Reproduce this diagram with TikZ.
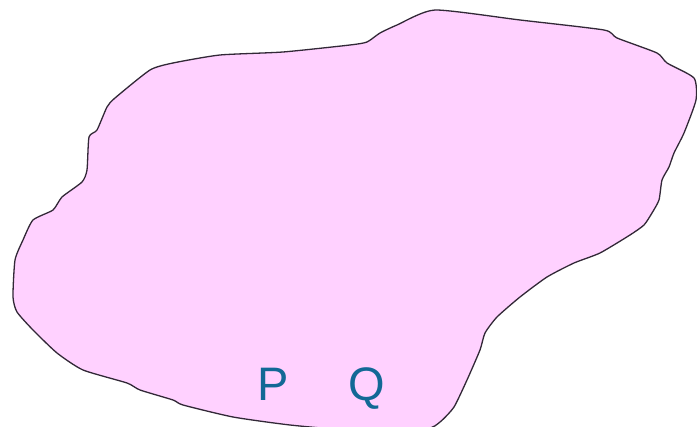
\documentclass[tikz,border=0pt]{standalone}
\usepackage{fontspec}
\setmainfont{Liberation Sans}
\definecolor{blobfill}{RGB}{255,209,255}
\definecolor{blobline}{RGB}{50,40,55}
\definecolor{lettercol}{RGB}{18,104,150}
\tikzset{
  blob/.style={fill=blobfill, draw=blobline, line width=1.3pt, line join=round},
  letter/.style={text=lettercol, font=\fontsize{47}{50}\selectfont, inner sep=0pt, anchor=base}
}
\begin{document}
\begin{tikzpicture}[x=1pt,y=-1pt]
\useasboundingbox (0,0) rectangle (697,427);
\fill[white] (0,0) rectangle (697,427);
\draw[blob] plot[smooth cycle, tension=0.35] coordinates {
(435,10) (520,20) (604,30) (617,38) (657,53) (667,63) (694,78) (696,100)
(684,133) (674,153) (669,167) (662,180) (659,200) (652,213) (644,225) (630,235)
(600,253) (574,263) (547,277) (520,297) (497,317) (485,333) (480,350) (467,380)
(454,407) (440,422) (425,429) (350,430) (290,425) (233,417) (183,405) (173,400)
(140,390) (127,383) (83,370) (57,353) (33,330) (17,312) (13,297) (15,260)
(23,240) (33,220) (53,210) (62,197) (82,182) (87,170) (89,137) (97,130)
(107,107) (115,98) (150,70) (173,63) (220,55) (283,52) (350,45) (367,42)
(380,33) (397,25)};
\node[letter] (P) at (273,401) {P};
\node[letter] (Q) at (367,401) {Q};
\end{tikzpicture}
\end{document}
